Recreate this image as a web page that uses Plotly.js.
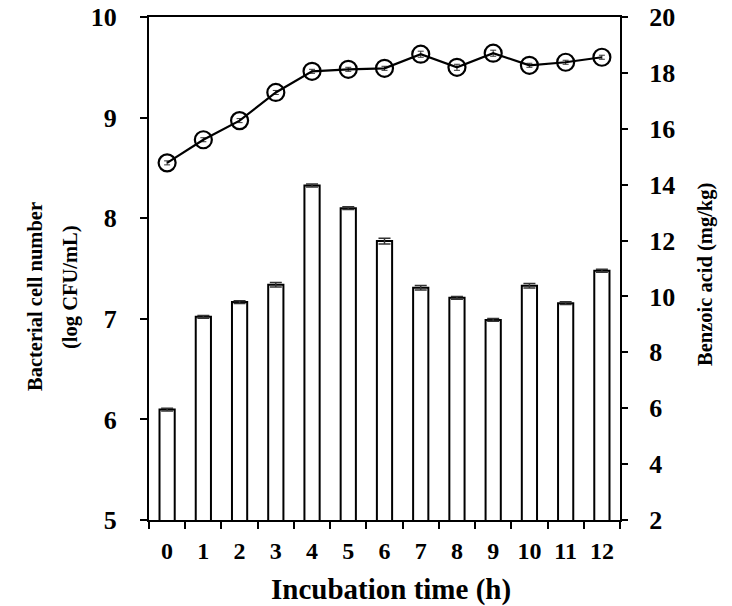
<!DOCTYPE html>
<html>
<head>
<meta charset="utf-8">
<script src="https://cdn.plot.ly/plotly-3.0.1.min.js"></script>
<style>html,body{margin:0;padding:0;background:#fff;}#chart{width:732px;height:606px;}</style>
</head>
<body>
<div id="chart"></div>
<script>
var hours = ['0','1','2','3','4','5','6','7','8','9','10','11','12'];
var benzoicAcid = [5.95, 9.27, 9.80, 10.42, 13.97, 13.16, 11.98, 10.31, 9.95, 9.16, 10.38, 9.76, 10.92];
var benzoicErr = [0.05, 0.05, 0.05, 0.08, 0.05, 0.05, 0.1, 0.08, 0.05, 0.05, 0.08, 0.05, 0.05];
var cellNumber = [8.55, 8.78, 8.97, 9.25, 9.46, 9.48, 9.49, 9.63, 9.50, 9.64, 9.52, 9.55, 9.60];
var cellErr = [0.02, 0.02, 0.02, 0.02, 0.02, 0.02, 0.02, 0.03, 0.03, 0.03, 0.02, 0.02, 0.02];

var fam = '"Liberation Serif", "Times New Roman", serif';
var font = {family: fam, color: '#000'};

var bars = {
  type: 'bar', x: hours, y: benzoicAcid, yaxis: 'y2',
  width: 0.42,
  marker: {color: '#fff', line: {color: '#000', width: 2}},
  error_y: {type: 'data', array: benzoicErr, visible: true, color: '#333', thickness: 1.5, width: 6},
  showlegend: false, hoverinfo: 'skip'
};
var line = {
  type: 'scatter', mode: 'lines+markers', x: hours, y: cellNumber, yaxis: 'y',
  line: {color: '#000', width: 2.2},
  marker: {symbol: 'circle', size: 17, color: 'rgba(0,0,0,0)', line: {color: '#000', width: 2.2}},
  error_y: {type: 'data', array: cellErr, visible: true, color: '#333', thickness: 1, width: 3},
  showlegend: false, hoverinfo: 'skip'
};

var layout = {
  width: 732, height: 606,
  margin: {l: 149, r: 112, t: 17, b: 86},
  paper_bgcolor: '#fff', plot_bgcolor: '#fff',
  font: font,
  xaxis: {
    type: 'category', range: [-0.5, 12.5],
    showline: true, linecolor: '#000', linewidth: 2, mirror: true,
    ticks: 'outside', tickson: 'boundaries', ticklen: 7, tickwidth: 2, tickcolor: '#000',
    showgrid: false, zeroline: false,
    tickfont: {family: fam, size: 24, color: '#000', weight: 'bold'},
    ticklabelstandoff: 8
  },
  yaxis: {
    range: [5, 10], dtick: 1,
    showline: true, linecolor: '#000', linewidth: 2,
    ticks: 'outside', ticklen: 7, tickwidth: 2, tickcolor: '#000',
    showgrid: false, zeroline: false,
    tickfont: {family: fam, size: 26, color: '#000', weight: 'bold'},
    ticklabelstandoff: 18
  },
  yaxis2: {
    range: [2, 20], dtick: 2, overlaying: 'y', side: 'right',
    showline: true, linecolor: '#000', linewidth: 2,
    ticks: 'outside', ticklen: 6, tickwidth: 2, tickcolor: '#000',
    showgrid: false, zeroline: false,
    tickfont: {family: fam, size: 26, color: '#000', weight: 'bold'},
    ticklabelstandoff: 16
  },
  annotations: [
    {text: '<b>Incubation time (h)</b>', xref: 'paper', yref: 'paper', x: 0.514, y: -0.139,
     xanchor: 'center', yanchor: 'middle', showarrow: false, font: {family: fam, size: 29, color: '#000'}},
    {text: '<b>Bacterial cell number</b>', xref: 'paper', yref: 'paper', x: (35 - 149) / 471, y: (520 - 297) / 503,
     xanchor: 'center', yanchor: 'middle', textangle: -90, showarrow: false, font: {family: fam, size: 20.5, color: '#000'}},
    {text: '<b>(log CFU/mL)</b>', xref: 'paper', yref: 'paper', x: (70 - 149) / 471, y: (520 - 287) / 503,
     xanchor: 'center', yanchor: 'middle', textangle: -90, showarrow: false, font: {family: fam, size: 20.5, color: '#000'}},
    {text: '<b>Benzoic acid (mg/kg)</b>', xref: 'paper', yref: 'paper', x: (705 - 149) / 471, y: (520 - 275) / 503,
     xanchor: 'center', yanchor: 'middle', textangle: -90, showarrow: false, font: {family: fam, size: 20.5, color: '#000'}}
  ]
};

Plotly.newPlot('chart', [bars, line], layout, {staticPlot: true, displayModeBar: false});
</script>
</body>
</html>
